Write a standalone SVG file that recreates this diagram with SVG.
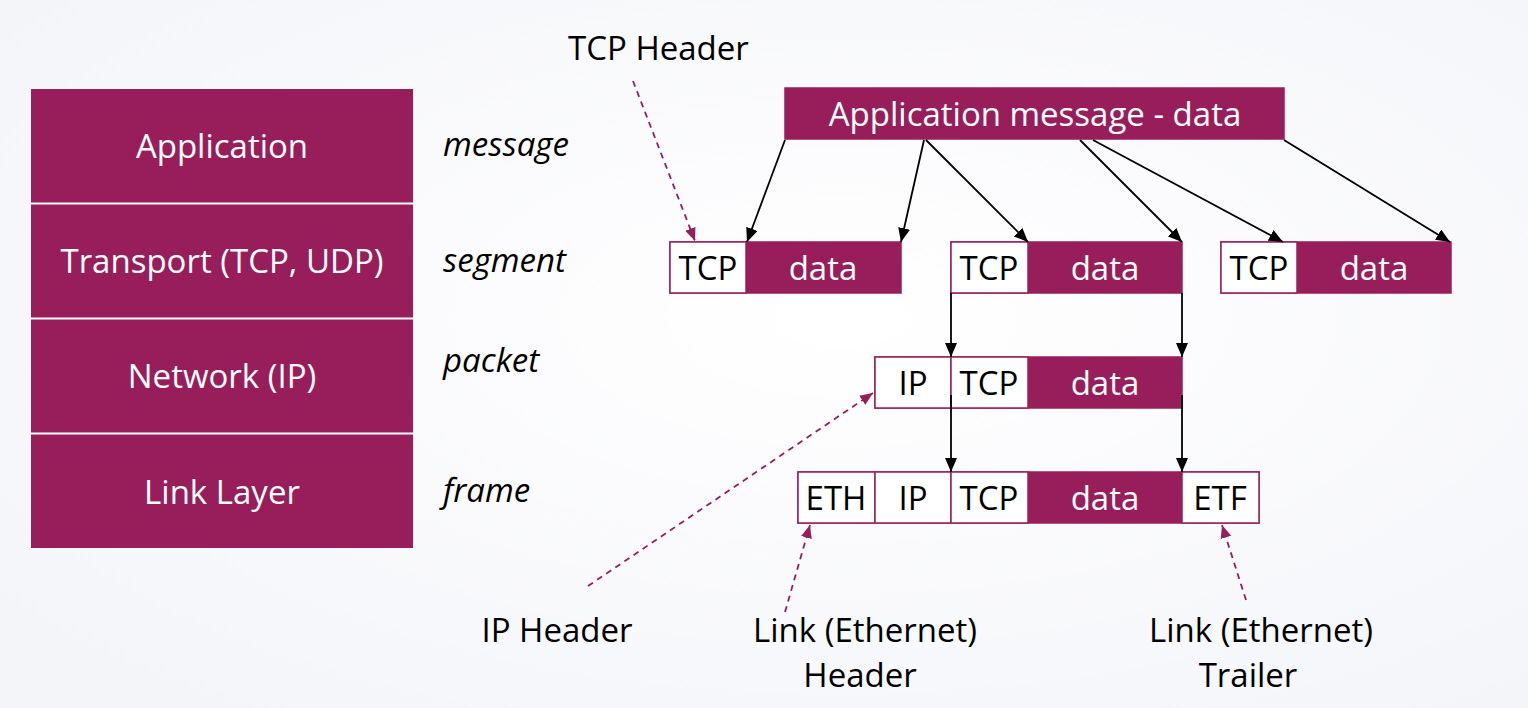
<svg xmlns="http://www.w3.org/2000/svg" width="1528" height="708" viewBox="0 0 1528 708">
<defs>
<radialGradient id="bg" cx="0.55" cy="0.45" r="0.7">
<stop offset="0" stop-color="#ffffff"/>
<stop offset="1" stop-color="#f4f5f9"/>
</radialGradient>
<marker id="ah" viewBox="0 0 14 12" refX="14" refY="6" markerWidth="14" markerHeight="12" markerUnits="userSpaceOnUse" orient="auto">
<path d="M0,0 L14,6 L0,12 Z" fill="#000"/>
</marker>
<marker id="mh" viewBox="0 0 13 11" refX="13" refY="5.5" markerWidth="13" markerHeight="11" markerUnits="userSpaceOnUse" orient="auto">
<path d="M0,0 L13,5.5 L0,11 Z" fill="#981e5b"/>
</marker>
</defs>
<style>
.f{fill:#981e5b}
.w{fill:#fff;stroke:#981e5b;stroke-width:1.5}
.fb{fill:#981e5b;stroke:#981e5b;stroke-width:1.5}
.t{font-family:"Open Sans","Noto Sans","Liberation Sans",sans-serif;font-size:33px}
.wt{fill:#fff}
.bt{fill:#000}
.it{font-style:italic}
.c{text-anchor:middle}
.sep{stroke:#fff;stroke-width:2}
.a{stroke:#000;stroke-width:1.8;fill:none;marker-end:url(#ah)}
.d{stroke:#981e5b;stroke-width:1.8;fill:none;stroke-dasharray:6 5;marker-end:url(#mh)}
</style>
<rect width="1528" height="708" fill="url(#bg)"/>

<g id="stack">
<rect x="31" y="89" width="382" height="459" class="f"/>
<line x1="31" y1="203.5" x2="413" y2="203.5" class="sep"/>
<line x1="31" y1="318.5" x2="413" y2="318.5" class="sep"/>
<line x1="31" y1="433.5" x2="413" y2="433.5" class="sep"/>
<text x="222" y="158" class="t wt c">Application</text>
<text x="222" y="273" class="t wt c">Transport (TCP, UDP)</text>
<text x="222" y="388" class="t wt c">Network (IP)</text>
<text x="222" y="504" class="t wt c">Link Layer</text>
</g>

<g id="layer-names">
<text x="443" y="156" class="t bt it">message</text>
<text x="443" y="272" class="t bt it">segment</text>
<text x="443" y="372" class="t bt it">packet</text>
<text x="443" y="502" class="t bt it">frame</text>
</g>

<g id="app-message">
<rect x="785" y="88" width="499" height="51" class="fb"/>
<text x="1035" y="126" class="t wt c">Application message - data</text>
</g>

<g id="segment1">
<rect x="670" y="242" width="231" height="51" class="fb"/>
<rect x="670" y="242" width="76" height="51" class="w"/>
<text x="708" y="280" class="t bt c">TCP</text>
<text x="823" y="280" class="t wt c">data</text>
</g>

<g id="segment2">
<rect x="951" y="242" width="231" height="51" class="fb"/>
<rect x="951" y="242" width="77" height="51" class="w"/>
<text x="989" y="280" class="t bt c">TCP</text>
<text x="1105" y="280" class="t wt c">data</text>
</g>

<g id="segment3">
<rect x="1221" y="242" width="230" height="51" class="fb"/>
<rect x="1221" y="242" width="76" height="51" class="w"/>
<text x="1259" y="280" class="t bt c">TCP</text>
<text x="1374" y="280" class="t wt c">data</text>
</g>

<g id="packet">
<rect x="875" y="357" width="307" height="51" class="fb"/>
<rect x="875" y="357" width="76" height="51" class="w"/>
<rect x="951" y="357" width="77" height="51" class="w"/>
<text x="913" y="395" class="t bt c">IP</text>
<text x="989" y="395" class="t bt c">TCP</text>
<text x="1105" y="395" class="t wt c">data</text>
</g>

<g id="frame">
<rect x="798" y="472" width="461" height="51" class="fb"/>
<rect x="798" y="472" width="77" height="51" class="w"/>
<rect x="875" y="472" width="76" height="51" class="w"/>
<rect x="951" y="472" width="77" height="51" class="w"/>
<rect x="1182" y="472" width="77" height="51" class="w"/>
<text x="836" y="510" class="t bt c">ETH</text>
<text x="913" y="510" class="t bt c">IP</text>
<text x="989" y="510" class="t bt c">TCP</text>
<text x="1105" y="510" class="t wt c">data</text>
<text x="1220" y="510" class="t bt c">ETF</text>
</g>

<g id="labels">
<text x="568" y="60" class="t bt">TCP Header</text>
<text x="557" y="642" class="t bt c">IP Header</text>
<text x="865" y="642" class="t bt c">Link (Ethernet)</text>
<text x="860" y="687" class="t bt c">Header</text>
<text x="1261" y="642" class="t bt c">Link (Ethernet)</text>
<text x="1248" y="687" class="t bt c">Trailer</text>
</g>

<g id="connectors">
<line x1="785" y1="140" x2="747" y2="242" class="a"/>
<line x1="924" y1="140" x2="901" y2="242" class="a"/>
<line x1="926" y1="140" x2="1028" y2="242" class="a"/>
<line x1="1080" y1="140" x2="1182" y2="242" class="a"/>
<line x1="1093" y1="140" x2="1283" y2="242" class="a"/>
<line x1="1284" y1="140" x2="1450" y2="242" class="a"/>
<line x1="951" y1="293" x2="951" y2="357" class="a"/>
<line x1="1182" y1="293" x2="1182" y2="357" class="a"/>
<line x1="951" y1="395" x2="951" y2="472" class="a"/>
<line x1="1182" y1="395" x2="1182" y2="472" class="a"/>
<line x1="633" y1="81" x2="695" y2="241" class="d"/>
<line x1="588" y1="586" x2="873" y2="393" class="d"/>
<line x1="785" y1="612" x2="810" y2="525" class="d"/>
<line x1="1246" y1="600" x2="1222" y2="525" class="d"/>
</g>
</svg>
